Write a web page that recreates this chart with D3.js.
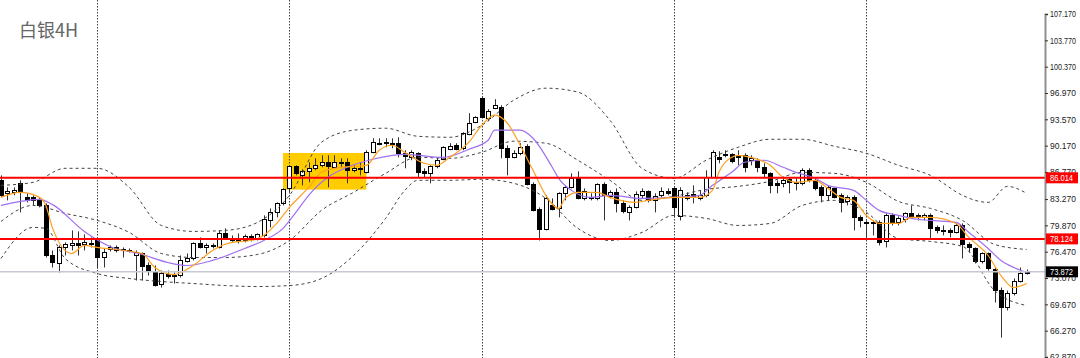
<!DOCTYPE html>
<html><head><meta charset="utf-8">
<script src="https://cdn.jsdelivr.net/npm/d3@7"></script>
<style>body{margin:0;background:#fff}svg{display:block}</style>
</head><body>
<svg id="c" width="1080" height="358"></svg>
<script>
// ---- data (price values) ----
const title = "白银4H";
const opens = [85.69,84.01,84.14,85.30,83.49,83.49,83.23,82.45,75.98,74.95,77.02,77.28,77.54,77.41,77.41,77.92,75.72,76.76,77.02,76.76,76.70,75.98,76.24,74.69,73.91,72.36,73.65,73.52,73.39,75.34,75.59,77.54,77.02,77.28,77.02,78.83,78.18,78.05,77.92,78.44,78.05,78.57,80.51,81.55,82.71,84.65,87.50,86.33,86.85,87.24,87.63,88.02,87.37,88.02,88.02,86.98,87.24,86.72,89.31,90.48,90.61,90.48,90.48,89.18,88.66,89.18,86.85,86.59,87.50,88.41,89.70,90.22,89.83,91.64,93.19,96.30,93.71,95.00,95.13,89.83,88.66,89.18,90.09,85.17,81.94,79.35,82.45,82.06,84.01,84.78,85.95,83.36,83.49,83.36,85.17,83.62,84.14,82.71,81.55,82.19,83.75,84.26,83.10,83.75,84.26,84.65,81.03,83.75,83.88,83.36,83.75,86.08,88.66,89.05,89.05,88.92,88.92,88.28,88.28,87.37,86.59,85.30,85.30,85.82,85.43,85.30,86.98,85.69,84.78,83.75,84.65,83.75,82.97,83.49,80.90,80.25,80.25,80.25,77.79,81.16,80.25,80.64,81.42,81.16,80.90,81.16,79.61,79.22,79.22,78.96,79.86,77.41,76.89,75.21,76.24,74.30,71.58,69.38,71.20,72.75,73.91];
const highs = [86.33,84.78,84.78,85.69,84.01,83.75,83.49,82.71,76.63,77.28,77.67,79.22,79.09,78.70,78.31,78.31,76.89,77.28,77.28,77.02,76.89,76.63,76.37,75.08,74.69,74.04,74.04,73.78,75.98,76.24,77.67,78.31,77.54,77.54,79.22,79.48,78.57,78.83,78.70,78.70,78.83,81.16,82.06,82.84,84.65,87.63,87.63,87.11,88.02,88.53,88.92,88.92,88.92,88.53,88.53,87.63,88.02,89.57,91.12,91.12,91.12,91.12,91.25,89.57,89.57,89.31,87.24,87.63,88.66,90.09,90.48,90.48,91.90,94.36,93.97,96.43,94.88,96.17,95.39,90.22,89.57,90.48,90.35,85.43,82.19,83.75,83.36,84.14,85.04,86.59,86.85,84.65,84.01,85.30,85.43,84.39,84.65,83.10,82.45,84.26,84.65,84.39,84.01,84.78,84.65,84.78,84.78,84.14,85.04,84.39,86.98,89.57,89.44,89.57,89.18,89.57,89.18,88.92,88.53,87.89,86.72,85.69,86.08,86.08,85.95,87.24,87.24,85.95,85.04,85.04,84.78,84.01,83.75,83.75,81.16,80.51,80.51,80.51,81.42,81.42,81.03,81.55,82.45,81.42,81.42,81.42,79.86,79.86,79.48,80.12,80.12,77.67,77.02,76.37,76.37,74.43,71.84,71.45,73.01,74.43,74.17];
const lows = [83.49,83.10,83.75,81.55,82.84,82.45,82.19,75.72,74.43,73.78,75.98,76.63,75.98,76.63,77.02,74.30,74.43,76.50,76.37,75.72,76.37,72.75,72.75,73.39,71.97,71.84,73.01,72.36,73.14,75.08,75.34,76.89,76.24,76.89,76.89,78.18,77.67,77.54,77.67,77.79,77.92,78.31,79.61,80.90,82.45,84.14,86.33,85.04,85.43,86.98,87.37,84.78,87.24,87.37,85.30,86.72,86.33,86.59,89.18,90.22,89.96,89.83,88.66,87.24,88.28,86.08,86.08,85.30,87.24,88.28,89.57,89.57,89.57,91.51,93.06,93.71,93.32,94.88,88.53,86.33,88.53,88.92,85.04,81.68,77.92,79.22,81.81,80.90,83.10,84.65,83.23,83.10,83.10,83.10,80.51,83.36,81.55,81.42,80.51,82.06,83.36,82.84,81.55,83.49,83.75,80.90,80.51,83.10,82.71,83.10,83.49,85.95,87.89,88.66,87.89,87.63,86.72,87.63,86.72,86.08,84.01,84.01,84.78,84.01,84.39,85.04,85.43,84.39,82.84,83.10,83.36,81.55,82.45,79.22,79.61,78.31,78.57,77.28,77.02,79.86,79.86,80.25,80.77,80.51,80.51,78.18,78.83,78.57,78.31,78.83,75.59,76.37,74.95,74.95,74.04,69.90,65.37,68.88,70.81,72.49,73.52];
const closes = [83.75,84.26,84.39,84.14,83.10,83.10,82.45,75.98,75.08,77.02,77.41,77.54,77.28,77.67,77.54,75.72,76.37,77.02,76.63,76.63,76.63,76.37,74.56,73.91,72.23,73.78,73.39,73.39,75.34,75.72,77.54,77.02,77.28,77.22,78.83,78.31,77.92,77.79,78.44,78.05,78.70,80.64,81.55,82.71,84.52,87.50,86.59,86.85,87.24,87.63,88.02,87.50,88.02,87.95,86.98,87.24,87.11,89.31,90.61,90.43,90.48,90.35,89.18,88.79,89.31,86.72,86.59,87.50,88.28,89.96,90.09,89.70,91.77,93.06,93.84,93.84,94.62,95.39,89.83,88.66,89.18,89.96,85.17,81.81,79.35,83.36,81.94,84.01,84.78,85.95,83.36,84.26,83.36,85.17,83.75,84.14,82.71,81.68,82.19,83.88,84.26,83.10,83.62,84.26,84.01,82.19,84.39,83.36,83.49,83.75,86.08,89.31,88.41,88.92,88.15,88.66,87.37,88.53,87.37,86.59,85.04,85.04,85.69,85.43,85.30,86.98,85.69,84.65,83.75,84.78,83.49,82.84,83.49,80.90,80.51,80.12,80.19,77.67,81.16,80.25,80.77,81.42,81.03,80.90,81.16,79.48,79.22,79.09,78.96,79.86,77.41,77.02,75.21,76.24,74.30,71.58,69.38,71.20,72.75,73.78,73.87];

// Bollinger bands (read at sample bars)
const bbUpperIdx = [0,5,10,15,20,25,30,35,40,45,50,55,60,65,70,75,80,85,90,95,100,105,110,115,120,125,130,135,140,145,150,152,154,157,160];
const bbUpper = [85.04,85.43,87.24,87.24,84.78,79.86,79.09,79.22,80.25,83.75,90.61,92.16,92.42,91.38,91.25,92.80,96.04,97.59,97.08,93.45,87.24,85.95,88.28,89.96,90.99,90.99,90.09,89.18,87.63,86.33,83.75,83.10,82.84,84.91,84.01];
const bbMidIdx = [0,5,10,15,20,25,30,35,40,45,50,55,60,65,70,75,80,85,90,95,100,105,110,115,120,125,130,135,140,145,150,155,160];
const bbMid = [80.38,82.45,81.42,80.51,78.96,76.24,75.72,75.72,76.11,77.92,81.81,84.14,86.59,88.66,88.53,89.31,90.74,90.48,88.28,85.69,83.10,83.62,84.52,84.91,85.56,86.72,86.59,85.43,82.97,82.06,80.51,77.41,76.76];
const bbLowerIdx = [0,5,7,10,15,20,25,30,35,40,45,50,55,60,63,65,70,75,80,85,90,95,100,105,110,115,120,125,130,135,140,145,150,155,160];
const bbLower = [75.59,79.61,79.48,75.59,73.65,73.01,72.62,72.36,72.10,71.97,72.10,73.01,75.98,80.77,84.39,85.69,85.69,85.82,85.30,83.36,79.48,77.92,78.96,81.16,80.77,79.86,80.12,82.45,83.10,81.55,78.18,77.79,77.15,71.45,69.51];

// moving averages (read at sample bars)
const maFastIdx = [0,3,6,7,8,11,13,15,22,24,27,30,33,36,39,41,43,45,48,50,53,57,59,61,63,66,68,70,73,75,77,79,81,83,85,87,88,90,93,95,99,101,105,109,111,112,114,115,117,120,122,124,127,129,131,133,135,137,140,142,145,149,151,154,156,158,160];
const maFast = [83.49,84.14,83.49,82.45,79.61,76.24,77.28,77.02,76.24,74.43,73.52,74.69,76.63,77.67,77.92,78.57,80.12,82.19,84.78,86.72,87.37,87.63,89.57,90.22,89.31,87.89,87.63,88.66,90.61,92.80,94.10,93.06,90.22,86.98,83.75,82.06,83.36,84.14,84.14,83.49,82.84,83.10,83.49,83.49,84.39,86.72,88.66,88.92,88.66,87.63,86.08,85.43,85.69,84.65,83.49,83.10,81.16,80.12,80.12,80.90,80.90,80.12,78.31,75.98,73.39,71.84,72.36];
const maSlowIdx = [0,3,6,8,13,17,22,26,29,33,38,41,44,46,48,51,54,58,63,69,73,76,77,81,83,86,87,89,92,95,100,105,109,111,114,116,119,122,124,127,129,133,135,137,140,142,145,149,151,154,156,158,160];
const maSlow = [82.45,82.97,83.23,82.58,79.09,77.15,76.11,75.08,74.69,75.34,76.89,77.92,79.48,81.55,83.75,86.08,87.37,88.41,89.05,88.66,89.70,90.86,92.16,92.16,91.12,87.37,85.95,84.39,83.49,83.75,83.36,83.49,83.75,85.04,86.72,88.02,88.28,87.37,86.72,85.95,85.04,84.39,83.10,81.81,81.16,80.77,80.51,80.25,78.96,76.89,75.34,74.43,73.78];

// levels, separators, highlight
const resistanceLevels = [86.014, 78.124];
const lastPrice = 73.872;
const separatorBars = [15, 45, 75, 105, 135];
const highlightBars = [44, 57];
const highlightPrices = [89.22, 84.49];
const yTicks = [107.17,103.77,100.37,96.97,93.57,90.17,86.77,83.27,79.87,76.47,73.07,69.67,66.27,62.87];

// ---- drawing ----
const W = 1080, H = 358, axisX = 1045;
const svg = d3.select("#c");
const x = d3.scaleLinear().domain([0, 160]).range([1, 1026.6]);
const y = d3.scaleLinear().domain([62.87, 107.17]).range([357, 14]);
const px = i => Math.round(x(i));

const bars = opens.map((o, i) => ({i, o, h: highs[i], l: lows[i], c: closes[i]}));

// highlight box
svg.append("rect")
  .attr("x", x(highlightBars[0])).attr("width", x(highlightBars[1]) - x(highlightBars[0]))
  .attr("y", y(highlightPrices[0])).attr("height", y(highlightPrices[1]) - y(highlightPrices[0]))
  .attr("fill", "#ffcc00");

// separators
svg.selectAll("line.sep").data(separatorBars).join("line")
  .attr("class", "sep")
  .attr("x1", d => px(d) + 0.5).attr("x2", d => px(d) + 0.5)
  .attr("y1", 0).attr("y2", H)
  .attr("stroke", "#444").attr("stroke-width", 1).attr("stroke-dasharray", "1.5,1.5");

// candles
const g = svg.append("g");
g.selectAll("line.wick").data(bars).join("line")
  .attr("x1", d => px(d.i) + 0.5).attr("x2", d => px(d.i) + 0.5)
  .attr("y1", d => y(d.h)).attr("y2", d => y(d.l))
  .attr("stroke", "#333").attr("stroke-width", 1);
g.selectAll("rect.body").data(bars).join("rect")
  .attr("x", d => px(d.i) - 1.5).attr("width", 4)
  .attr("y", d => Math.round(y(Math.max(d.o, d.c))) + 0.5)
  .attr("height", d => Math.max(1, Math.round(Math.abs(y(d.o) - y(d.c)))))
  .attr("fill", d => d.c >= d.o ? "#fff" : "#000")
  .attr("stroke", "#000").attr("stroke-width", 1);

// bands
const lineFor = (idx, vals) => d3.line().curve(d3.curveMonotoneX)
  .x((d, k) => x(idx[k])).y(d => y(d))(vals);
[[bbUpperIdx, bbUpper], [bbMidIdx, bbMid], [bbLowerIdx, bbLower]].forEach(([idx, v]) => {
  svg.append("path").attr("d", lineFor(idx, v)).attr("fill", "none")
    .attr("stroke", "#444").attr("stroke-width", 1).attr("stroke-dasharray", "3,3");
});
svg.append("path").attr("d", lineFor(maSlowIdx, maSlow)).attr("fill", "none")
  .attr("stroke", "#a070f0").attr("stroke-width", 1.2);
svg.append("path").attr("d", lineFor(maFastIdx, maFast)).attr("fill", "none")
  .attr("stroke", "#ffa020").attr("stroke-width", 1.2);

// last price line
svg.append("line").attr("x1", 0).attr("x2", axisX)
  .attr("y1", y(lastPrice)).attr("y2", y(lastPrice))
  .attr("stroke", "#c4c9d2").attr("stroke-width", 1.5);
// level lines
svg.selectAll("line.lvl").data(resistanceLevels).join("line")
  .attr("class", "lvl")
  .attr("x1", 0).attr("x2", axisX)
  .attr("y1", d => y(d)).attr("y2", d => y(d))
  .attr("stroke", "#ff0000").attr("stroke-width", 2);

// axis
const axis = d3.axisRight(y).tickValues(yTicks).tickFormat(d3.format(".3f")).tickSize(3).tickPadding(2);
const ag = svg.append("g").attr("transform", `translate(${axisX},0)`).call(axis);
ag.select(".domain").attr("stroke", "#909090").attr("stroke-width", 2);
ag.selectAll(".tick line").attr("stroke", "#333");
ag.selectAll(".tick text").attr("font-family", "Liberation Sans, Arial, sans-serif")
  .attr("font-size", 8.5).attr("fill", "#222").attr("textLength", 26).attr("lengthAdjust", "spacingAndGlyphs");

// price tags
const tags = resistanceLevels.map(v => ({v, fill: "#ff0000"})).concat([{v: lastPrice, fill: "#000"}]);
const tg = svg.selectAll("g.tag").data(tags).join("g").attr("class", "tag")
  .attr("transform", d => `translate(${axisX + 1},${y(d.v)})`);
tg.append("rect").attr("x", 0).attr("y", -5.5).attr("width", 32).attr("height", 11).attr("fill", d => d.fill);
tg.append("text").attr("x", 4).attr("y", 3.2).text(d => d.v.toFixed(3))
  .attr("font-family", "Liberation Sans, Arial, sans-serif").attr("font-size", 8.5).attr("fill", "#fff")
  .attr("textLength", 23).attr("lengthAdjust", "spacingAndGlyphs");

// title
svg.append("text").attr("x", 19).attr("y", 37).text(title)
  .attr("font-family", "Noto Sans CJK SC, sans-serif").attr("font-size", 18).attr("fill", "#666");
</script>
</body></html>
